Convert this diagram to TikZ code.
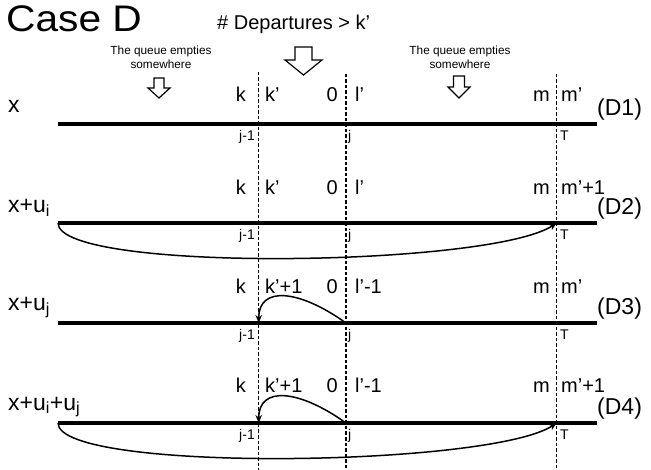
\documentclass[tikz,border=0pt]{standalone}
\usepackage{fontspec}
\usepackage{graphicx}
\setmainfont{Liberation Sans}
\usetikzlibrary{arrows.meta}

\tikzset{
  timeline/.style={line width=3.6pt},
  slot/.style={dash pattern=on 3.5pt off 2pt, line width=1.1pt},
  jump/.style={line width=1.5pt, -{Stealth[length=8pt,width=6.5pt]}},
  hollow/.style={line width=1.2pt, line join=miter},
  lbl/.style={inner sep=0pt, font=\fontsize{20}{24}\selectfont},
  tick/.style={inner sep=0pt, font=\fontsize{14}{16}\selectfont},
  rowname/.style={inner sep=0pt, anchor=base west, font=\fontsize{23}{26}\selectfont},
  casetag/.style={inner sep=0pt, anchor=west, font=\fontsize{23}{26}\selectfont},
  note/.style={inner sep=0pt, anchor=north, align=center, font=\fontsize{11.8}{14}\selectfont},
}
% centre x, top y, half shaft, half head, head start y, tip y
\newcommand{\hollowdown}[6]{%
  \draw[hollow] (#1-#3,#2) -- (#1+#3,#2) -- (#1+#3,#5) -- (#1+#4,#5) -- (#1,#6)
    -- (#1-#4,#5) -- (#1-#3,#5) -- cycle;}

\begin{document}
\begin{tikzpicture}[x=1pt, y=-1pt]
        \useasboundingbox (0,0) rectangle (651,470);
        \node [inner sep=0pt, anchor=base west, font=\fontsize{37}{40}\selectfont] (title) at (6,32) {\scalebox{1.1}[1]{Case D}};
        \node [lbl, anchor=base west] (dep) at (217,30) {\# Departures > k’};
        \node [note] (qa) at (161,45.5) {The queue empties\\somewhere};
        \node [note] (qb) at (460,45.5) {The queue empties\\somewhere};
        \hollowdown{303.5}{47}{8.5}{18.5}{60}{75}
        \hollowdown{159}{78}{5}{11}{88}{98}
        \hollowdown{459}{76}{5.5}{11}{87}{98}
        \coordinate (ptop) at (258.7,72);
        \coordinate (pbot) at (258.7,470);
        \coordinate (qtop) at (346,74);
        \coordinate (qbot) at (346,470);
        \coordinate (ttop) at (556.7,74);
        \coordinate (tbot) at (556.7,470);
        \draw [slot] (ptop) -- (pbot);
        \draw [slot] (qtop) -- (qbot);
        \draw [slot] (ttop) -- (tbot);
        \begin{scope}[shift={(0,124)}]
                    \coordinate (a1) at (58,0);
                    \coordinate (b1) at (597,0);
                    \draw [timeline] (a1) -- (b1);
                    \node [rowname] (x1) at (8,-11) {x};
                    \node [lbl, anchor=base east] (k1) at (246,-22) {k};
                    \node [lbl, anchor=base west] (kk1) at (265,-22) {k’};
                    \node [lbl, anchor=base east] (z1) at (338,-22) {0};
                    \node [lbl, anchor=base west] (l1) at (355,-22) {l’};
                    \node [lbl, anchor=base east] (m1) at (550,-22) {m};
                    \node [lbl, anchor=base west] (mm1) at (561,-22) {m’};
                    \node [casetag] (d1) at (597,-14) {(D1)};
                    \node [tick, anchor=north east] (s1) at (255,6.5) {j-1};
                    \node [tick, anchor=north west] (j1) at (348,6.5) {j};
                    \node [tick, anchor=north west] (t1) at (560,6.5) {T};
        \end{scope}
        \begin{scope}[shift={(0,223)}]
                    \coordinate (a2) at (58,0);
                    \coordinate (b2) at (597,0);
                    \coordinate (e2) at (556.7,0);
                    \draw [timeline] (a2) -- (b2);
                    \draw [jump] (a2) .. controls (58,50) and (490,44) .. (e2);
                    \node [rowname] (x2) at (8,-10) {x+u\textsubscript{i}};
                    \node [lbl, anchor=base east] (k2) at (246,-28) {k};
                    \node [lbl, anchor=base west] (kk2) at (265,-28) {k’};
                    \node [lbl, anchor=base east] (z2) at (338,-28) {0};
                    \node [lbl, anchor=base west] (l2) at (355,-28) {l’};
                    \node [lbl, anchor=base east] (m2) at (550,-28) {m};
                    \node [lbl, anchor=base west] (mm2) at (561,-28) {m’+1};
                    \node [casetag] (d2) at (597,-14) {(D2)};
                    \node [tick, anchor=north east] (s2) at (255,6.5) {j-1};
                    \node [tick, anchor=north west] (j2) at (348,6.5) {j};
                    \node [tick, anchor=north west] (t2) at (560,6.5) {T};
        \end{scope}
        \begin{scope}[shift={(0,323)}]
                    \coordinate (a3) at (58,0);
                    \coordinate (b3) at (597,0);
                    \coordinate (p3) at (258.7,0);
                    \coordinate (q3) at (346,0);
                    \draw [timeline] (a3) -- (b3);
                    \draw [jump] (q3) .. controls (300,-33) and (258.7,-38) .. (p3);
                    \node [rowname] (x3) at (8,-12) {x+u\textsubscript{j}};
                    \node [lbl, anchor=base east] (k3) at (246,-29) {k};
                    \node [lbl, anchor=base west] (kk3) at (265,-29) {k’+1};
                    \node [lbl, anchor=base east] (z3) at (338,-29) {0};
                    \node [lbl, anchor=base west] (l3) at (355,-29) {l’-1};
                    \node [lbl, anchor=base east] (m3) at (550,-29) {m};
                    \node [lbl, anchor=base west] (mm3) at (561,-29) {m’};
                    \node [casetag] (d3) at (597,-14) {(D3)};
                    \node [tick, anchor=north east] (s3) at (255,6.5) {j-1};
                    \node [tick, anchor=north west] (j3) at (348,6.5) {j};
                    \node [tick, anchor=north west] (t3) at (560,6.5) {T};
        \end{scope}
        \begin{scope}[shift={(0,423)}]
                    \coordinate (a4) at (58,0);
                    \coordinate (b4) at (597,0);
                    \coordinate (p4) at (258.7,0);
                    \coordinate (q4) at (346,0);
                    \coordinate (e4) at (556.7,0);
                    \draw [timeline] (a4) -- (b4);
                    \draw [jump] (q4) .. controls (300,-33) and (258.7,-38) .. (p4);
                    \draw [jump] (a4) .. controls (58,50) and (490,44) .. (e4);
                    \node [rowname] (x4) at (8,-13) {x+u\textsubscript{i}+u\textsubscript{j}};
                    \node [lbl, anchor=base east] (k4) at (246,-30) {k};
                    \node [lbl, anchor=base west] (kk4) at (265,-30) {k’+1};
                    \node [lbl, anchor=base east] (z4) at (338,-30) {0};
                    \node [lbl, anchor=base west] (l4) at (355,-30) {l’-1};
                    \node [lbl, anchor=base east] (m4) at (550,-30) {m};
                    \node [lbl, anchor=base west] (mm4) at (561,-30) {m’+1};
                    \node [casetag] (d4) at (597,-14) {(D4)};
                    \node [tick, anchor=north east] (s4) at (255,6.5) {j-1};
                    \node [tick, anchor=north west] (j4) at (348,6.5) {j};
                    \node [tick, anchor=north west] (t4) at (560,6.5) {T};
        \end{scope}
\end{tikzpicture}
\end{document}
